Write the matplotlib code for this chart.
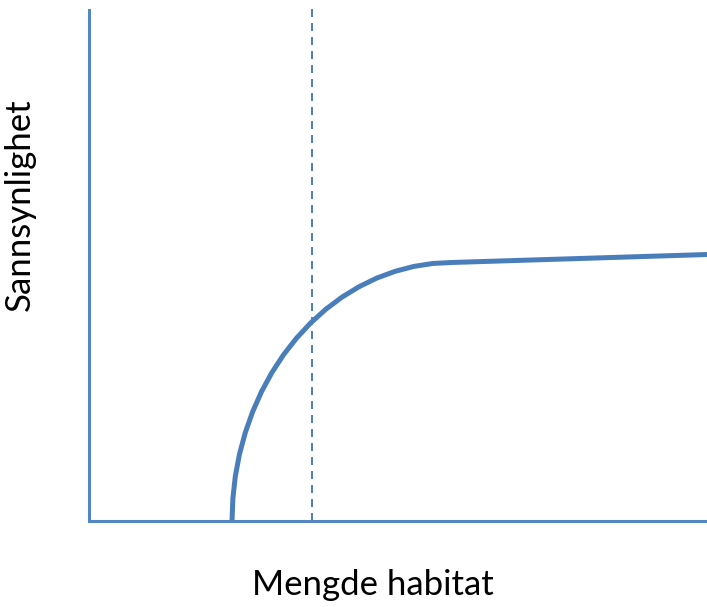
import matplotlib
matplotlib.use('Agg')
import matplotlib.pyplot as plt

# curve (x: 0-10, y: 0-10)
curve_x = [2.314, 2.328, 2.368, 2.435, 2.529, 2.648, 2.791, 2.958, 3.147, 3.357,
           3.586, 3.832, 4.094, 4.370, 4.657, 4.953, 5.256, 5.564, 5.874, 10.0]
curve_y = [0.000, 0.441, 0.878, 1.309, 1.730, 2.138, 2.530, 2.902, 3.252, 3.577,
           3.875, 4.144, 4.381, 4.585, 4.754, 4.886, 4.982, 5.040, 5.059, 5.215]
threshold_x = 3.61

blue = '#4A7EBB'
axis_blue = '#5585C2'

plt.rcParams['font.family'] = ['Lato', 'DejaVu Sans']

fig = plt.figure(figsize=(7.07, 6.07), dpi=100)
ax = fig.add_axes([89 / 707, 86 / 607, 618 / 707, 511 / 607])

ax.plot(curve_x, curve_y, color=blue, lw=3.6, solid_capstyle='butt', solid_joinstyle='round')
ax.plot([threshold_x, threshold_x], [0, 10.06], color=blue, lw=1.4,
        dashes=(4.1, 3.1), clip_on=False)

ax.set_xlim(0, 10)
ax.set_ylim(0, 10)
ax.set_xticks([])
ax.set_yticks([])
for s in ['top', 'right']:
    ax.spines[s].set_visible(False)
for s in ['left', 'bottom']:
    ax.spines[s].set_color(axis_blue)
    ax.spines[s].set_linewidth(2.2)

fig.text(373 / 707, 1 - 585 / 607, 'Mengde habitat', fontsize=25,
         ha='center', va='center', color='black')
fig.text(20 / 707, 1 - 205 / 607, 'Sannsynlighet', fontsize=25,
         ha='center', va='center', rotation=90, color='black')

fig.savefig('out.png', dpi=100)
